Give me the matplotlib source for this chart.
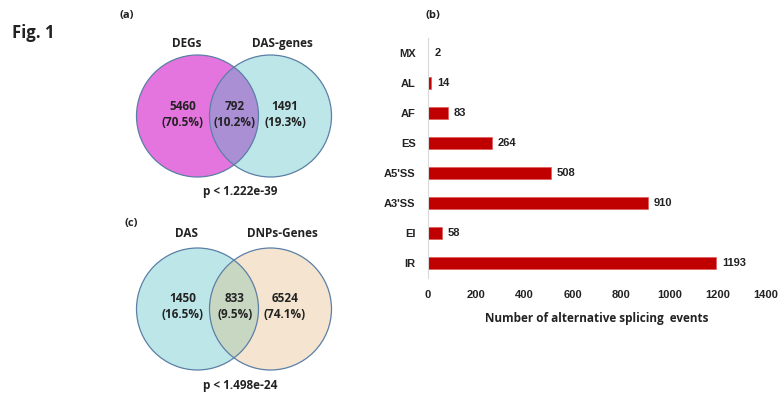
import matplotlib
matplotlib.use("Agg")
import matplotlib.pyplot as plt
from matplotlib.patches import Circle

# panel (b): alternative splicing event counts, top to bottom
event_types = ['MX', 'AL', 'AF', 'ES', "A5'SS", "A3'SS", 'EI', 'IR']
event_counts = [2, 14, 83, 264, 508, 910, 58, 1193]
x_ticks = [0, 200, 400, 600, 800, 1000, 1200, 1400]

# panel (a): DEGs vs DAS-genes
venn_a_sets = ['DEGs', 'DAS-genes']
venn_a_counts = [5460, 792, 1491]
venn_a_pcts = ['70.5%', '10.2%', '19.3%']
venn_a_p = 'p < 1.222e-39'

# panel (c): DAS vs DNPs-Genes
venn_c_sets = ['DAS', 'DNPs-Genes']
venn_c_counts = [1450, 833, 6524]
venn_c_pcts = ['16.5%', '9.5%', '74.1%']
venn_c_p = 'p < 1.498e-24'

W, H = 778, 394
fig = plt.figure(figsize=(W / 100, H / 100), dpi=100)
fig.patch.set_facecolor('white')

# full-figure axes in pixel units for the venn panels
bg = fig.add_axes([0, 0, 1, 1])
bg.set_xlim(0, W)
bg.set_ylim(H, 0)
bg.set_aspect('equal')
bg.axis('off')

vfont = dict(family=['Open Sans', 'DejaVu Sans'], weight='bold', color='#222222')
EDGE = '#5b7fa6'


def venn(cy, left_col, right_col, mid_col, sets, counts, pcts, pval, label, label_xy, set_y, p_y):
    r = 61
    lx, rx = 197.5, 270.5
    left = Circle((lx, cy), r, facecolor=left_col, edgecolor='none')
    right = Circle((rx, cy), r, facecolor=right_col, edgecolor='none')
    bg.add_patch(left)
    bg.add_patch(right)
    # overlap: left circle in the overlap colour, clipped to the right one
    mid = Circle((lx, cy), r, facecolor=mid_col, edgecolor='none')
    bg.add_patch(mid)
    mid.set_clip_path(right)
    for x in (lx, rx):
        bg.add_patch(Circle((x, cy), r, facecolor='none', edgecolor=EDGE, lw=0.9))
    for x, n, p in zip([183, 235, 285], counts, pcts):
        bg.text(x, cy - 10, str(n), ha='center', va='center', fontsize=8.5, **vfont)
        bg.text(x, cy + 6, '(' + p + ')', ha='center', va='center', fontsize=8.5, **vfont)
    bg.text(187, set_y, sets[0], ha='center', va='center', fontsize=8.5, **vfont)
    bg.text(282, set_y, sets[1], ha='center', va='center', fontsize=8.5, **vfont)
    bg.text(240, p_y, pval, ha='center', va='center', fontsize=8.5, **vfont)
    bg.text(label_xy[0], label_xy[1], label, ha='center', va='center', fontsize=8, **vfont)


venn(116, '#e474de', '#bde6e8', '#aa8fd4', venn_a_sets, venn_a_counts, venn_a_pcts,
     venn_a_p, '(a)', (127, 15), 43, 191)
venn(309, '#bde6e8', '#f5e4d0', '#c8d7c2', venn_c_sets, venn_c_counts, venn_c_pcts,
     venn_c_p, '(c)', (131, 223), 233, 385)

bg.text(33, 33, 'Fig. 1', ha='center', va='center', fontsize=12, **vfont)
bg.text(433, 15, '(b)', ha='center', va='center', fontsize=8, **vfont)

# panel (b) horizontal bars
ax = fig.add_axes([428 / W, 1 - 278 / H, 338 / W, 240 / H])
ypos = list(range(len(event_types)))
ax.barh(ypos, event_counts, height=0.37, color='#c00000', edgecolor='#e05050', lw=0.4)
for y, v in zip(ypos, event_counts):
    ax.text(v + 24, y, str(v), ha='left', va='center', fontsize=8,
            family='Liberation Sans', weight='bold', color='#222222')
ax.set_ylim(len(event_types) - 0.5, -0.5)
ax.set_xlim(0, 1400)
ax.set_yticks(ypos)
ax.set_yticklabels(event_types, family='Liberation Sans', weight='bold', fontsize=8, color='#222222')
ax.set_xticks(x_ticks)
ax.set_xticklabels([str(t) for t in x_ticks], family='Liberation Sans', weight='bold',
                   fontsize=8, color='#222222')
ax.tick_params(length=0, pad=9)
for s in ('top', 'right', 'bottom'):
    ax.spines[s].set_visible(False)
ax.spines['left'].set_color('#d9d9d9')
ax.spines['left'].set_linewidth(0.8)
ax.set_xlabel('Number of alternative splicing  events', fontsize=8.5, labelpad=8,
              family=['Open Sans', 'DejaVu Sans'], weight='bold', color='#222222')

fig.savefig('out.png', dpi=100)
